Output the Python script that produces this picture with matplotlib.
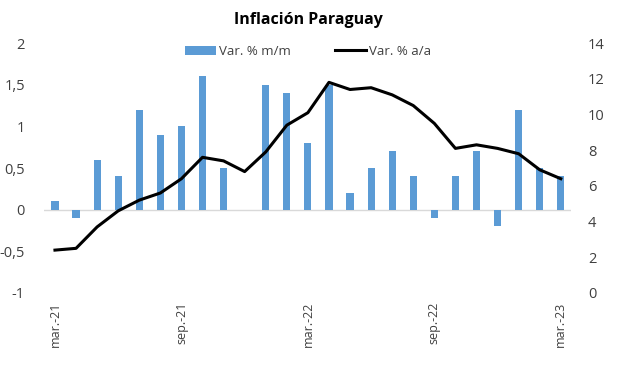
import matplotlib.pyplot as plt
from matplotlib.ticker import FuncFormatter

# datos mensuales mar-21 .. mar-23
meses = ["mar.-21", "abr.-21", "may.-21", "jun.-21", "jul.-21", "ago.-21",
         "sep.-21", "oct.-21", "nov.-21", "dic.-21", "ene.-22", "feb.-22",
         "mar.-22", "abr.-22", "may.-22", "jun.-22", "jul.-22", "ago.-22",
         "sep.-22", "oct.-22", "nov.-22", "dic.-22", "ene.-23", "feb.-23",
         "mar.-23"]
var_mm = [0.1, -0.1, 0.6, 0.4, 1.2, 0.9, 1.0, 1.6, 0.5, 0.0, 1.5, 1.4,
          0.8, 1.5, 0.2, 0.5, 0.7, 0.4, -0.1, 0.4, 0.7, -0.2, 1.2, 0.5, 0.4]
var_aa = [2.4, 2.5, 3.7, 4.6, 5.2, 5.6, 6.4, 7.6, 7.4, 6.8, 7.9, 9.4,
          10.1, 11.8, 11.4, 11.5, 11.1, 10.5, 9.5, 8.1, 8.3, 8.1, 7.8, 6.9,
          6.4]
etiquetas = ["mar.-21", "sep.-21", "mar.-22", "sep.-22", "mar.-23"]

gris = "#404040"
plt.rcParams["font.family"] = ["Open Sans", "DejaVu Sans"]

fig = plt.figure(figsize=(6.17, 3.78), dpi=100)
ax = fig.add_axes([0.072, 0.225, 0.854, 0.661])
ax2 = ax.twinx()

x = list(range(len(meses)))
barras = ax.bar(x, var_mm, width=0.34, color="#5B9BD5", label="Var. % m/m")
linea, = ax2.plot(x, var_aa, color="black", lw=2.2, label="Var. % a/a")

ax.set_ylim(-1, 2)
ax.set_yticks([-1, -0.5, 0, 0.5, 1, 1.5, 2])
ax.yaxis.set_major_formatter(FuncFormatter(lambda v, p: f"{v:g}".replace(".", ",")))
ax2.set_ylim(0, 14)
ax2.set_yticks(range(0, 15, 2))
ax.set_xlim(-0.5, len(meses) - 0.5)
ax.axhline(0, color="#d9d9d9", lw=1, zorder=0)

ax.set_xticks([meses.index(m) for m in etiquetas])
ax.set_xticklabels(etiquetas, rotation=90, fontsize=9, color=gris)

for a in (ax, ax2):
    for s in a.spines.values():
        s.set_visible(False)
    a.tick_params(length=0, labelsize=10.5, labelcolor=gris)
ax.tick_params(axis="y", pad=14)
ax2.tick_params(axis="y", pad=12)
ax.tick_params(axis="x", labelsize=9, pad=6)

ax.legend([barras, linea], ["Var. % m/m", "Var. % a/a"], ncol=2, frameon=False,
          loc="upper center", bbox_to_anchor=(0.5, 1.04), fontsize=9.5,
          handlelength=2.4, columnspacing=3.3, labelcolor=gris, handletextpad=0.2)

fig.suptitle("Inflación Paraguay", fontsize=11.5, fontweight="bold", y=0.968)
fig.savefig("out.png", dpi=100)
